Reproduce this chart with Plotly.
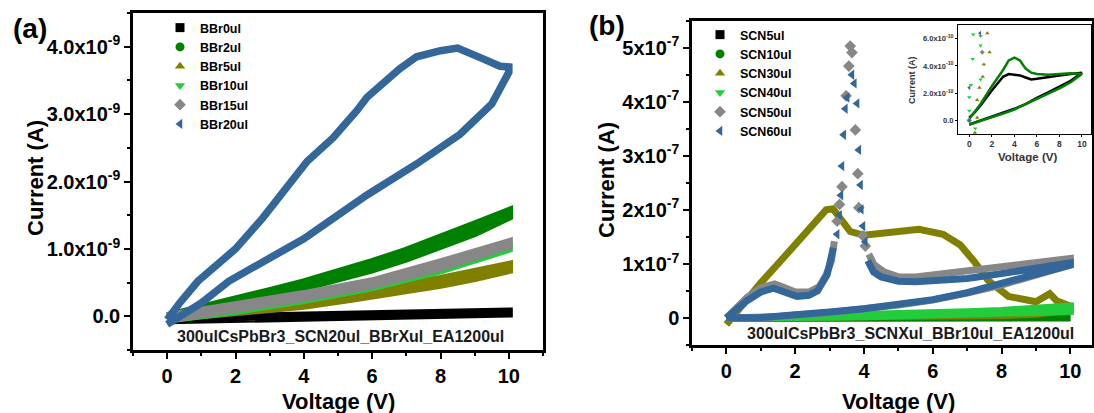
import plotly.graph_objects as go

W, H = 1094, 413

# ---------------- Panel (a): 300ulCsPbBr3_SCN20ul_BBrXul_EA1200ul ----------------
bbr0_v = [0, 2, 4, 6, 8, 10, 10, 8, 6, 4, 2, 0]
bbr0_i = [-6.0e-11, -4.0e-11, -2.0e-11, 0.0, 1.5e-11, 4.0e-11, 7.0e-11, 5.0e-11, 3.0e-11, 1.0e-11, -1.0e-11, -3.0e-11]

bbr2_v = [0, 1, 2, 3, 4, 5, 6, 7, 8, 9, 10, 10, 9, 8, 7, 6, 5, 4, 3, 2, 1, 0]
bbr2_i = [-0.03e-9, 0.07e-9, 0.18e-9, 0.30e-9, 0.43e-9, 0.56e-9, 0.70e-9, 0.86e-9, 1.04e-9, 1.24e-9, 1.48e-9,
          1.56e-9, 1.36e-9, 1.16e-9, 0.97e-9, 0.80e-9, 0.64e-9, 0.50e-9, 0.37e-9, 0.25e-9, 0.12e-9, 0.0]

bbr5_v = [0, 2, 4, 5.35, 6, 7, 8, 9, 10, 10, 9, 8, 7, 6, 5, 4, 2, 0]
bbr5_i = [-0.03e-9, 0.06e-9, 0.16e-9, 0.26e-9, 0.31e-9, 0.38e-9, 0.47e-9, 0.57e-9, 0.69e-9,
          0.76e-9, 0.64e-9, 0.55e-9, 0.46e-9, 0.39e-9, 0.32e-9, 0.24e-9, 0.10e-9, 0.0]

bbr10_v = [0, 2, 4, 6, 8, 10, 10, 8, 6, 4, 2, 0]
bbr10_i = [-0.05e-9, 0.08e-9, 0.24e-9, 0.43e-9, 0.68e-9, 1.00e-9, 1.04e-9, 0.75e-9, 0.49e-9, 0.30e-9, 0.13e-9, 0.0]

bbr15_v = [0, 2, 4, 6, 8, 10, 10, 8, 6, 4, 2, 0]
bbr15_i = [-0.05e-9, 0.10e-9, 0.27e-9, 0.46e-9, 0.72e-9, 1.05e-9, 1.10e-9, 0.80e-9, 0.52e-9, 0.33e-9, 0.15e-9, 0.0]

bbr20_v = [0, 0.5, 1, 1.8, 3, 4, 4.85, 5.85, 7.3, 8.57, 9.5, 10,
           10, 9.74, 9.25, 8.77, 8.5, 8.0, 7.3, 6.8, 6.3, 5.85, 5.55, 4.86, 4.1, 3.5, 2.8, 2, 0.9, 0.4, 0]
bbr20_i = [-0.12e-9, 0.05e-9, 0.20e-9, 0.52e-9, 0.88e-9, 1.15e-9, 1.45e-9, 1.80e-9, 2.26e-9, 2.70e-9, 3.15e-9, 3.62e-9,
           3.70e-9, 3.71e-9, 3.82e-9, 3.94e-9, 3.98e-9, 3.94e-9, 3.85e-9, 3.67e-9, 3.45e-9, 3.25e-9, 3.05e-9,
           2.65e-9, 2.30e-9, 1.90e-9, 1.46e-9, 1.00e-9, 0.52e-9, 0.22e-9, -0.05e-9]

names_a = ["BBr0ul", "BBr2ul", "BBr5ul", "BBr10ul", "BBr15ul", "BBr20ul"]

# ---------------- Panel (b): 300ulCsPbBr3_SCNXul_BBr10ul_EA1200ul ----------------
scn5_v = [0, 0.5, 1, 2, 3, 3.5, 4, 4.5, 5, 5.5, 6, 7, 8, 9, 10, 9, 8, 7, 6, 5, 4, 3, 2, 1, 0]
scn5_i = [0.2e-10, 0.6e-10, 1.1e-10, 2.2e-10, 3.2e-10, 3.4e-10, 3.35e-10, 3.3e-10, 3.15e-10, 3.0e-10, 3.05e-10,
          3.2e-10, 3.3e-10, 3.4e-10, 3.5e-10, 2.9e-10, 2.45e-10, 2.05e-10, 1.65e-10, 1.2e-10, 0.85e-10,
          0.55e-10, 0.25e-10, 0.0, -0.3e-10]

scn10_v = [0, 1, 2, 3, 3.5, 4, 4.5, 5, 5.5, 6, 7, 8, 9, 10, 9, 8, 7, 6, 5, 4, 3, 2, 1, 0]
scn10_i = [0.1e-10, 1.2e-10, 2.5e-10, 3.7e-10, 4.4e-10, 4.6e-10, 4.4e-10, 3.8e-10, 3.5e-10, 3.4e-10, 3.35e-10,
           3.4e-10, 3.45e-10, 3.4e-10, 2.8e-10, 2.35e-10, 1.95e-10, 1.55e-10, 1.15e-10, 0.8e-10, 0.5e-10,
           0.25e-10, 0.0, -0.3e-10]

scn30_v = [0, 0.5, 1, 1.5, 2, 2.5, 2.9, 3.1, 3.3, 3.6, 4, 4.5, 5, 5.6, 6.3, 6.8, 7.2, 7.6, 8.2, 9.0, 9.4, 9.6, 10,
           10, 9, 8, 6, 4, 2.35, 1.8, 1.6, 1.3, 1.2, 0.9, 0.7, 0.7, 0.5]
scn30_i = [-0.12e-7, 0.28e-7, 0.65e-7, 1.0e-7, 1.35e-7, 1.7e-7, 2.0e-7, 2.02e-7, 1.85e-7, 1.6e-7, 1.53e-7, 1.55e-7,
           1.6e-7, 1.64e-7, 1.55e-7, 1.35e-7, 1.05e-7, 0.7e-7, 0.4e-7, 0.3e-7, 0.45e-7, 0.32e-7, 0.22e-7,
           0.15e-7, 0.07e-7, 0.045e-7, 0.025e-7, 0.012e-7, 7.2e-10, 5.0e-10, 6.4e-10, 4.1e-10, 3.2e-10, 2.4e-10,
           1.5e-10, 0.2e-10, -0.9e-10]

scn40_v = [0, 0, 0.15, 0.3, 0.35, 0.53, 1.0, 1.0, 1.3, 2, 3, 4, 5, 6, 7, 8, 9, 10,
           10, 9, 8, 7, 6, 5, 4, 3, 2, 1, 0]
scn40_i = [0.7e-10, 1.7e-10, 2.6e-10, 4.5e-10, 6.3e-10, -0.6e-10, 5.5e-10, 6.2e-10, 7.1e-10, 0.02e-7, 0.035e-7,
           0.05e-7, 0.07e-7, 0.09e-7, 0.115e-7, 0.14e-7, 0.17e-7, 0.22e-7,
           0.12e-7, 0.1e-7, 0.08e-7, 0.06e-7, 0.045e-7, 0.032e-7, 0.022e-7, 0.014e-7, 0.008e-7, 0.003e-7, 0.0]

# SCN50ul: continuous parts (None marks the fast jump) + jump points
scn50_v = [0, 0.3, 0.6, 1.0, 1.4, 1.7, 2.0, 2.4, 2.7, 2.9, 3.05, 3.14, None,
           4.14, 4.3, 4.6, 5, 5.5, 6, 7, 8, 9, 10, 10, 9, 8, 7, 6, 5, 4, 3, 2, 1.15, 0]
scn50_i = [0, 0.2e-7, 0.38e-7, 0.56e-7, 0.63e-7, 0.56e-7, 0.48e-7, 0.48e-7, 0.58e-7, 0.8e-7, 1.05e-7, 1.42e-7, None,
           1.18e-7, 0.98e-7, 0.85e-7, 0.76e-7, 0.76e-7, 0.8e-7, 0.87e-7, 0.95e-7, 1.02e-7, 1.1e-7,
           0.98e-7, 0.79e-7, 0.61e-7, 0.46e-7, 0.33e-7, 0.24e-7, 0.16e-7, 0.1e-7, 0.055e-7, 5.0e-10, 0]
scn50_jump_v = [3.22, 3.29, 3.36, 3.48, 3.56, 3.6, 3.65, 3.75, 3.82, 3.85, 3.97, 4.04]
scn50_jump_i = [1.79e-7, 2.10e-7, 2.43e-7, 4.11e-7, 4.66e-7, 5.03e-7, 4.91e-7, 3.48e-7, 2.67e-7, 2.04e-7,
                1.52e-7, 1.33e-7]

scn60_v = [0, 0.3, 0.6, 1.0, 1.37, 1.6, 2.05, 2.4, 2.65, 2.93, 3.11, None,
           4.11, 4.28, 4.5, 5, 5.5, 6, 7, 8, 9, 10, 10, 9, 8, 7, 6, 5, 4, 3, 2, 0.95, 0]
scn60_i = [0, 0.16e-7, 0.32e-7, 0.48e-7, 0.55e-7, 0.5e-7, 0.4e-7, 0.42e-7, 0.5e-7, 0.8e-7, 1.3e-7, None,
           1.06e-7, 0.85e-7, 0.76e-7, 0.68e-7, 0.67e-7, 0.68e-7, 0.73e-7, 0.82e-7, 0.92e-7, 1.02e-7,
           0.98e-7, 0.8e-7, 0.62e-7, 0.47e-7, 0.34e-7, 0.25e-7, 0.17e-7, 0.11e-7, 0.06e-7, 6.4e-10, 2.4e-10]
scn60_jump_v = [3.22, 3.29, 3.33, 3.36, 3.41, 3.46, 3.51, 3.65, 3.72, 3.8, 3.85, 3.9, 3.92, 3.97, 4.04]
scn60_jump_i = [1.55e-7, 1.90e-7, 2.27e-7, 2.81e-7, 3.39e-7, 3.87e-7, 4.08e-7, 4.50e-7, 4.34e-7, 3.97e-7,
                3.11e-7, 2.46e-7, 2.01e-7, 1.70e-7, 1.41e-7]

names_b = ["SCN5ul", "SCN10ul", "SCN30ul", "SCN40ul", "SCN50ul", "SCN60ul"]

# ---------------- ticks ----------------
a_yticks = [0, 1e-9, 2e-9, 3e-9, 4e-9]
a_yticktext = ["0.0", "1.0x10<sup>-9</sup>", "2.0x10<sup>-9</sup>", "3.0x10<sup>-9</sup>", "4.0x10<sup>-9</sup>"]
b_yticks = [0, 1e-7, 2e-7, 3e-7, 4e-7, 5e-7]
b_yticktext = ["0", "1x10<sup>-7</sup>", "2x10<sup>-7</sup>", "3x10<sup>-7</sup>", "4x10<sup>-7</sup>", "5x10<sup>-7</sup>"]
inset_yticks = [0, 2e-10, 4e-10, 6e-10]
inset_yticktext = ["0.0", "2.0x10<sup>-10</sup>", "4.0x10<sup>-10</sup>", "6.0x10<sup>-10</sup>"]
x_ticks = [0, 2, 4, 6, 8, 10]

colors = ["#000000", "#008000", "#808000", "#22cc3c", "#878787", "#336699"]
symbols = ["square", "circle", "triangle-up", "triangle-down", "diamond", "triangle-left"]

FONT = "Liberation Sans, Arial, sans-serif"

fig = go.Figure()

# ---- panel (a) curves
a_data = [(bbr0_v, bbr0_i, 8), (bbr2_v, bbr2_i, 8.5), (bbr5_v, bbr5_i, 8.5),
          (bbr10_v, bbr10_i, 8), (bbr15_v, bbr15_i, 8), (bbr20_v, bbr20_i, 7.5)]
for k, (v, c, w) in enumerate(a_data):
    fig.add_trace(go.Scatter(x=v, y=c, mode="lines", line=dict(color=colors[k], width=w),
                             showlegend=False, xaxis="x", yaxis="y", hoverinfo="skip"))
for k, n in enumerate(names_a):
    fig.add_trace(go.Scatter(x=[None], y=[None], mode="markers", name=n,
                             marker=dict(color=colors[k], symbol=symbols[k], size=9),
                             legend="legend", xaxis="x", yaxis="y"))

# ---- panel (b) curves
b_data = [(scn5_v, scn5_i, 7), (scn10_v, scn10_i, 7), (scn30_v, scn30_i, 7),
          (scn40_v, scn40_i, 7), (scn50_v, scn50_i, 7), (scn60_v, scn60_i, 7)]
for k, (v, c, w) in enumerate(b_data):
    fig.add_trace(go.Scatter(x=v, y=c, mode="lines", line=dict(color=colors[k], width=w),
                             connectgaps=False, showlegend=False, xaxis="x2", yaxis="y2", hoverinfo="skip"))
    if k == 4:
        fig.add_trace(go.Scatter(x=scn50_jump_v, y=scn50_jump_i, mode="markers",
                                 marker=dict(color=colors[4], symbol="diamond", size=9),
                                 showlegend=False, xaxis="x2", yaxis="y2", hoverinfo="skip"))
    if k == 5:
        fig.add_trace(go.Scatter(x=scn60_jump_v, y=scn60_jump_i, mode="markers",
                                 marker=dict(color=colors[5], symbol="triangle-left", size=9),
                                 showlegend=False, xaxis="x2", yaxis="y2", hoverinfo="skip"))
for k, n in enumerate(names_b):
    fig.add_trace(go.Scatter(x=[None], y=[None], mode="markers", name=n,
                             marker=dict(color=colors[k], symbol=symbols[k], size=9),
                             legend="legend2", xaxis="x2", yaxis="y2"))

# ---- inset of panel (b)
for k, (v, c, w) in enumerate(b_data):
    if k in (0, 1):
        fig.add_trace(go.Scatter(x=v, y=c, mode="lines", line=dict(color=colors[k], width=2.5),
                                 showlegend=False, xaxis="x3", yaxis="y3", hoverinfo="skip"))
    else:
        fig.add_trace(go.Scatter(x=v, y=c, mode="markers",
                                 marker=dict(color=colors[k], symbol=symbols[k], size=4),
                                 showlegend=False, xaxis="x3", yaxis="y3", hoverinfo="skip"))


def px_x(p):
    return p / W


def px_y(p):
    return 1 - p / H


tickfont = dict(family=FONT, size=20, color="black", weight="bold")
main_axis = dict(showline=True, linewidth=2.5, linecolor="black", mirror=True, ticks="outside",
                 ticklen=6, tickwidth=2, tickcolor="black", showgrid=False, zeroline=False,
                 tickfont=tickfont)

fig.update_layout(
    width=W, height=H, margin=dict(l=0, r=0, t=0, b=0),
    paper_bgcolor="white", plot_bgcolor="white",
    xaxis=dict(main_axis, domain=[px_x(133), px_x(543)], range=[-1, 11], tickmode="array", tickvals=x_ticks,
               minor=dict(tickmode="array", tickvals=[-1, 1, 3, 5, 7, 9, 11], ticklen=3, tickwidth=2,
                          ticks="outside", tickcolor="black"), anchor="y"),
    yaxis=dict(main_axis, domain=[px_y(350), px_y(13)], range=[-0.5e-9, 4.5e-9], tickmode="array",
               tickvals=a_yticks, ticktext=a_yticktext,
               minor=dict(tickmode="array", tickvals=[-0.5e-9, 0.5e-9, 1.5e-9, 2.5e-9, 3.5e-9, 4.5e-9],
                          ticklen=3, tickwidth=2, ticks="outside", tickcolor="black"), anchor="x"),
    xaxis2=dict(main_axis, domain=[px_x(692), px_x(1092)], range=[-1, 10.63], tickmode="array",
                tickvals=x_ticks,
                minor=dict(tickmode="array", tickvals=[-1, 1, 3, 5, 7, 9], ticklen=3, tickwidth=2,
                           ticks="outside", tickcolor="black"), anchor="y2"),
    yaxis2=dict(main_axis, domain=[px_y(345), px_y(20.7)], range=[-0.5e-7, 5.5e-7], tickmode="array",
                tickvals=b_yticks, ticktext=b_yticktext,
                minor=dict(tickmode="array", tickvals=[-0.5e-7, 0.5e-7, 1.5e-7, 2.5e-7, 3.5e-7, 4.5e-7, 5.5e-7],
                           ticklen=3, tickwidth=2, ticks="outside", tickcolor="black"), anchor="x2"),
    xaxis3=dict(domain=[px_x(958), px_x(1091)], range=[-1, 10.8], showline=True, linewidth=1, linecolor="black",
                mirror=True, ticks="outside", ticklen=2, tickcolor="black", showgrid=False, zeroline=False,
                tickmode="array", tickvals=x_ticks,
                tickfont=dict(family=FONT, size=8.5, color="#333333", weight="bold"), anchor="y3"),
    yaxis3=dict(domain=[px_y(134), px_y(25)], range=[-1e-10, 7e-10], showline=True, linewidth=1,
                linecolor="black", mirror=True, ticks="outside", ticklen=2, tickcolor="black", showgrid=False,
                zeroline=False, tickmode="array", tickvals=inset_yticks, ticktext=inset_yticktext,
                tickfont=dict(family=FONT, size=7.5, color="#333333", weight="bold"), anchor="x3"),
    legend=dict(x=px_x(160), y=px_y(13), xanchor="left", yanchor="top", bgcolor="rgba(0,0,0,0)",
                font=dict(family=FONT, size=12.5, color="black", weight="bold"), itemwidth=30,
                tracegroupgap=0),
    legend2=dict(x=px_x(700), y=px_y(20), xanchor="left", yanchor="top", bgcolor="rgba(0,0,0,0)",
                 font=dict(family=FONT, size=12.5, color="black", weight="bold"), itemwidth=30,
                 tracegroupgap=0),
)


def label(text, x, y, size, angle=0, color="black"):
    fig.add_annotation(text=text, x=px_x(x), y=px_y(y), xref="paper", yref="paper", showarrow=False,
                       xanchor="center", yanchor="middle", textangle=angle,
                       font=dict(family=FONT, size=size, color=color, weight="bold"))


label("(a)", 30, 28, 28)
label("(b)", 607, 26, 28)
label("Current (A)", 35, 178, 22, angle=-90)
label("Current (A)", 606, 180, 22, angle=-90)
label("Voltage (V)", 338, 401, 22)
label("Voltage (V)", 898, 401, 22)
label("300ulCsPbBr3_SCN20ul_BBrXul_EA1200ul", 340, 336, 16, color="#1a1a1a")
label("300ulCsPbBr3_SCNXul_BBr10ul_EA1200ul", 910, 333, 16, color="#1a1a1a")
label("Voltage (V)", 1027, 157, 11.5, color="#333333")
label("Current (A)", 912, 80, 9, angle=-90, color="#333333")

fig.write_html("out.html")
